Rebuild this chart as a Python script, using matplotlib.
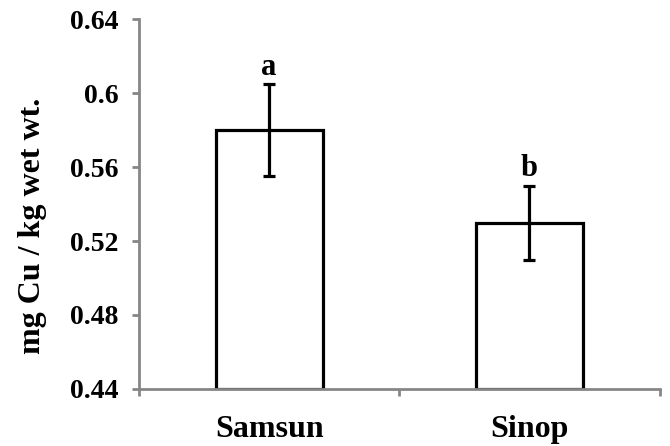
import matplotlib
matplotlib.use("Agg")
import matplotlib.pyplot as plt
from matplotlib.ticker import FixedLocator

categories = ["Samsun", "Sinop"]
values = [0.58, 0.53]
errors = [0.025, 0.02]
letters = ["a", "b"]
yticks = [0.44, 0.48, 0.52, 0.56, 0.6, 0.64]
yticklabels = ["0.44", "0.48", "0.52", "0.56", "0.6", "0.64"]

plt.rcParams['font.family'] = ['Liberation Serif', 'DejaVu Serif']
plt.rcParams['font.weight'] = 'bold'

fig = plt.figure(figsize=(6.70, 4.46), dpi=100)
ax = fig.add_axes([0.2075, 0.128, 0.777, 0.829])

x = list(range(len(categories)))
ax.bar(x, [v - 0.44 for v in values], bottom=0.44, width=0.41,
       color='white', edgecolor='black', linewidth=2.3, zorder=2)
ax.errorbar(x, values, yerr=errors, fmt='none', ecolor='black',
            elinewidth=2.3, capsize=4.5, capthick=2.3, zorder=3)
for xi, v, e, t in zip(x, values, errors, letters):
    ax.text(xi, v + e + 0.005, t, ha='center', va='baseline',
            fontsize=22, fontweight='bold')

ax.set_xlim(-0.5, 1.5)
ax.set_ylim(0.44, 0.64)
ax.set_yticks(yticks)
ax.set_yticklabels(yticklabels, fontsize=20, fontweight='bold')
ax.set_xticks(x)
ax.set_xticklabels(categories, fontsize=23, fontweight='bold')
ax.xaxis.set_minor_locator(FixedLocator([-0.5, 0.5, 1.5]))
ax.tick_params(axis='x', which='major', length=0, pad=19)
ax.tick_params(axis='x', which='minor', length=5, width=2, color='#868686', direction='out')
ax.tick_params(axis='y', which='major', length=5, width=2, color='#868686', direction='out', pad=10)

for s in ['top', 'right']:
    ax.spines[s].set_visible(False)
for s in ['left', 'bottom']:
    ax.spines[s].set_color('#868686')
    ax.spines[s].set_linewidth(2)

ax.set_ylabel("mg Cu / kg wet wt.", fontsize=23, fontweight='bold')
ax.yaxis.set_label_coords(-0.176, 0.44)

fig.savefig("out.png", dpi=100)
